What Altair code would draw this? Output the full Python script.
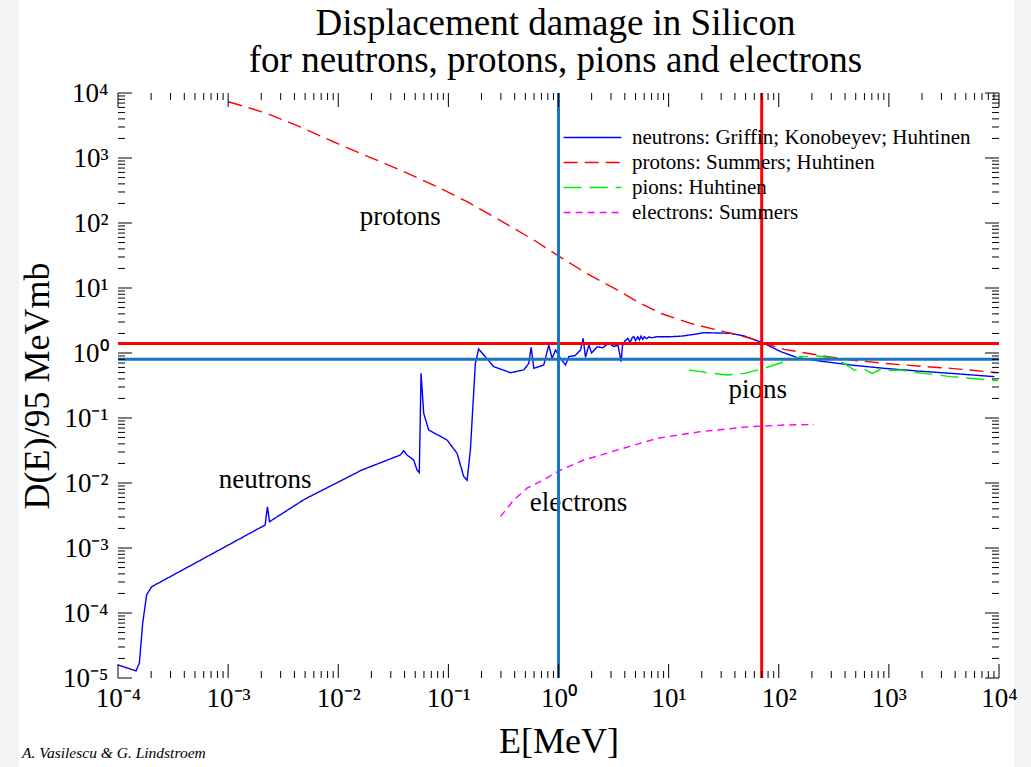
import altair as alt
import pandas as pd

# ---------------- data (log10 positions) ----------------
neutron_logE = [-4.0, -3.836, -3.806, -3.776, -3.74, -3.694, -3.633, -2.664, -2.643, -2.624,
                -2.315, -2.30, -1.815, -1.80, -1.436, -1.406, -1.376, -1.315, -1.285, -1.264,
                -1.248, -1.224, -1.179, -1.012, -0.921, -0.861, -0.83, -0.80, -0.755, -0.725,
                -0.679, -0.588, -0.436, -0.315, -0.27, -0.248, -0.224, -0.134, -0.088, -0.058,
                -0.027, 0.018, 0.064, 0.094, 0.15, 0.2, 0.224, 0.245, 0.276, 0.30,
                0.352, 0.40, 0.457, 0.50, 0.54, 0.569, 0.58, 0.60, 0.63, 0.65, 0.67, 0.685,
                0.70, 0.72, 0.735, 0.75, 0.765, 0.78, 0.80, 0.82, 0.85, 0.897, 1.018, 1.12, 1.23, 1.321, 1.564,
                1.685, 1.852, 2.018, 2.17, 2.35, 2.655, 2.958, 3.261, 3.564, 3.958]
neutron_logD = [-4.80, -4.89, -4.77, -4.16, -3.72, -3.595, -3.54, -2.646, -2.365, -2.595,
                -2.26, -2.245, -1.826, -1.81, -1.569, -1.503, -1.569, -1.646, -1.80, -1.84,
                -0.313, -0.928, -1.185, -1.338, -1.543, -1.90, -1.96, -1.49, -0.159, 0.06,
                -0.03, -0.21, -0.303, -0.26, -0.159, 0.087, -0.236, -0.185, 0.123, -0.082,
                0.046, -0.082, -0.185, -0.056, -0.04, 0.046, 0.226, -0.066, 0.123, 0.0,
                0.097, 0.08, 0.149, 0.10, 0.12, -0.133, 0.10, 0.18, 0.226, 0.16, 0.24, 0.251,
                0.19, 0.25, 0.20, 0.26, 0.21, 0.25, 0.22, 0.245, 0.235, 0.251, 0.251, 0.26, 0.287, 0.313, 0.303,
                0.262, 0.159, 0.021, -0.072, -0.118, -0.185, -0.236, -0.277, -0.313, -0.364]

proton_logE = [-2.997, -2.648, -2.347, -2.043, -1.74, -1.436, -1.13, -0.83, -0.53, -0.224,
               0.012, 0.25, 0.533, 0.727, 0.927, 1.2, 1.503, 1.745, 1.867, 2.048,
               2.35, 2.655, 2.958, 3.26, 3.564, 3.99]
proton_logD = [3.866, 3.687, 3.48, 3.25, 3.03, 2.815, 2.58, 2.328, 2.04, 1.738,
               1.48, 1.23, 0.97, 0.78, 0.61, 0.456, 0.328, 0.226, 0.149, 0.056,
               -0.03, -0.108, -0.159, -0.2, -0.236, -0.303]

pion_logE = [1.185, 1.351, 1.533, 1.685, 1.867, 2.048, 2.2, 2.35, 2.503, 2.594,
             2.685, 2.776, 2.85, 2.927, 2.99, 3.1, 3.25, 3.564, 3.99]
pion_logD = [-0.262, -0.303, -0.338, -0.313, -0.236, -0.133, -0.056, -0.046, -0.082, -0.159,
             -0.262, -0.25, -0.313, -0.25, -0.27, -0.262, -0.30, -0.364, -0.426]

electron_logE = [-0.527, -0.406, -0.285, -0.134, 0.018, 0.23, 0.382, 0.897, 1.29, 1.745, 2.048, 2.32]
electron_logD = [-2.518, -2.26, -2.08, -1.95, -1.80, -1.646, -1.57, -1.313, -1.21, -1.133, -1.108, -1.10]

series_names = ["neutrons: Griffin; Konobeyev; Huhtinen",
                "protons: Summers; Huhtinen",
                "pions: Huhtinen",
                "electrons: Summers"]
series_colors = ["#0000ff", "#ff0000", "#00ee00", "#ff00ff"]
series_dashes = [[1, 0], [14, 7], [18, 8], [7, 5]]

annot_text = ["protons", "neutrons", "electrons", "pions"]
annot_logE = [-1.436, -2.664, 0.182, 1.809]
annot_logD = [2.09, -1.954, -2.31, -0.569]

ref_h_values = [1.40, 0.80]
ref_h_colors = ["#ff0000", "#1a75c4"]
ref_v_values = [1.0, 70.0]
ref_v_colors = ["#1a75c4", "#ff0000"]

title_lines = ["Displacement damage in Silicon", "for neutrons, protons, pions and electrons"]
author_text = "A. Vasilescu & G. Lindstroem"

x_decades = list(range(-4, 5))
y_decades = list(range(-5, 5))

# ---------------- build tables ----------------
rows = []
for name, le, ld in zip(series_names,
                        [neutron_logE, proton_logE, pion_logE, electron_logE],
                        [neutron_logD, proton_logD, pion_logD, electron_logD]):
    for i, (a, b) in enumerate(zip(le, ld)):
        rows.append({"series": name, "E": 10 ** a, "D": 10 ** b, "order": i})
curves = pd.DataFrame(rows)

annots = pd.DataFrame({"text": annot_text,
                       "E": [10 ** v for v in annot_logE],
                       "D": [10 ** v for v in annot_logD]})

x_major = pd.DataFrame({"v": [10.0 ** d for d in x_decades]})
x_minor = pd.DataFrame({"v": [k * 10.0 ** d for d in x_decades[:-1] for k in range(2, 10)]})
y_major = pd.DataFrame({"v": [10.0 ** d for d in y_decades]})
y_minor = pd.DataFrame({"v": [k * 10.0 ** d for d in y_decades[:-1] for k in range(2, 10)]})

W, H = 881, 585
FONT = "Liberation Serif"
xscale = alt.Scale(type="log", domain=[1e-4, 1e4], nice=False)
yscale = alt.Scale(type="log", domain=[1e-5, 1e4], nice=False)

sup = "['⁻⁵','⁻⁴','⁻³','⁻²','⁻¹','⁰','¹','²','³','⁴'][round(log(datum.value)/LN10)+5]"
label_expr = "'10' + " + sup

x_axis = alt.Axis(values=[10.0 ** d for d in x_decades], labelExpr=label_expr, zindex=2,
                  ticks=False, domain=False, grid=False, labelFont=FONT, labelFontSize=27,
                  labelColor="black", labelPadding=7, labelFlush=False, labelOverlap=False,
                  title="E[MeV]", titleFont=FONT, titleFontSize=36, titleFontWeight="normal",
                  titleColor="black", titleX=W / 2, titleY=74, titleBaseline="alphabetic",
                  titleAnchor="middle")
y_axis = alt.Axis(values=[10.0 ** d for d in y_decades], labelExpr=label_expr, zindex=2,
                  ticks=False, domain=False, grid=False, labelFont=FONT, labelFontSize=27,
                  labelColor="black", labelPadding=10, labelFlush=False, labelOverlap=False,
                  labelBaseline="middle",
                  title="D(E)/95 MeVmb", titleFont=FONT, titleFontSize=36, titleFontWeight="normal",
                  titleColor="black", titleX=-70, titleY=H / 2, titleAngle=-90,
                  titleBaseline="alphabetic", titleAnchor="middle")

X = lambda f: alt.X(f, scale=xscale, axis=x_axis)
Y = lambda f: alt.Y(f, scale=yscale, axis=y_axis)

# white sheet (grey margins at the page sides)
sheet = alt.Chart(pd.DataFrame({"a": [0]})).mark_rect(fill="white").encode(
    x=alt.value(-99), x2=alt.value(896), y=alt.value(-93), y2=alt.value(674))

legend = alt.Legend(title=None, orient="none", legendX=463, legendY=33,
                    symbolType="M-2.75,0H2.75", symbolSize=441,
                    symbolStrokeWidth=1.5, labelFont=FONT,
                    labelFontSize=21, labelColor="black",
                    labelOffset=28, rowPadding=3, padding=0, labelLimit=500)

lines = alt.Chart(curves).mark_line(strokeWidth=1.4).encode(
    x=X("E:Q"), y=Y("D:Q"),
    order="order:Q",
    color=alt.Color("series:N", scale=alt.Scale(domain=series_names, range=series_colors),
                    legend=legend),
    strokeDash=alt.StrokeDash("series:N",
                              scale=alt.Scale(domain=series_names, range=series_dashes),
                              legend=legend),
)

href = alt.Chart(pd.DataFrame({"D": ref_h_values, "c": ref_h_colors})).mark_rule(strokeWidth=3).encode(
    y=Y("D:Q"), color=alt.Color("c:N", scale=None, legend=None))
vref = alt.Chart(pd.DataFrame({"E": ref_v_values, "c": ref_v_colors})).mark_rule(strokeWidth=3).encode(
    x=X("E:Q"), color=alt.Color("c:N", scale=None, legend=None))

texts = alt.Chart(annots).mark_text(font=FONT, fontSize=27, color="black",
                                    align="center", baseline="middle").encode(
    x=X("E:Q"), y=Y("D:Q"), text="text:N")


def xticks(df, length):
    base = alt.Chart(df).mark_rule(color="black", strokeWidth=1)
    bottom = base.encode(x=X("v:Q"), y=alt.value(H), y2=alt.value(H - length))
    top = base.encode(x=X("v:Q"), y=alt.value(0), y2=alt.value(length))
    return [bottom, top]


def yticks(df, length):
    base = alt.Chart(df).mark_rule(color="black", strokeWidth=1)
    left = base.encode(y=Y("v:Q"), x=alt.value(0), x2=alt.value(length))
    right = base.encode(y=Y("v:Q"), x=alt.value(W), x2=alt.value(W - length))
    return [left, right]


tick_layers = xticks(x_major, 14) + xticks(x_minor, 7) + yticks(y_major, 14) + yticks(y_minor, 7)

one = pd.DataFrame({"a": [0]})
title1 = alt.Chart(one).mark_text(font=FONT, fontSize=37, color="black", align="center",
                                  baseline="alphabetic", text=title_lines[0]).encode(
    x=alt.value(W / 2 - 3), y=alt.value(-58))
title2 = alt.Chart(one).mark_text(font=FONT, fontSize=37, color="black", align="center",
                                  baseline="alphabetic", text=title_lines[1]).encode(
    x=alt.value(W / 2 - 3), y=alt.value(-21))
author = alt.Chart(one).mark_text(
    font=FONT, fontSize=15.5, fontStyle="italic", color="black", align="left",
    baseline="alphabetic", text=author_text).encode(x=alt.value(-96), y=alt.value(665))

chart = alt.layer(sheet, lines, texts, href, vref, *tick_layers, title1, title2, author).properties(
    width=W, height=H,
    autosize=alt.AutoSizeParams(type="none"),
    padding={"left": 118, "top": 93, "right": 32, "bottom": 89},
    background="#f4f4f4",
).configure_view(stroke="black", strokeWidth=2)

chart.save("out.html", embed_options={"renderer": "svg", "actions": False})
